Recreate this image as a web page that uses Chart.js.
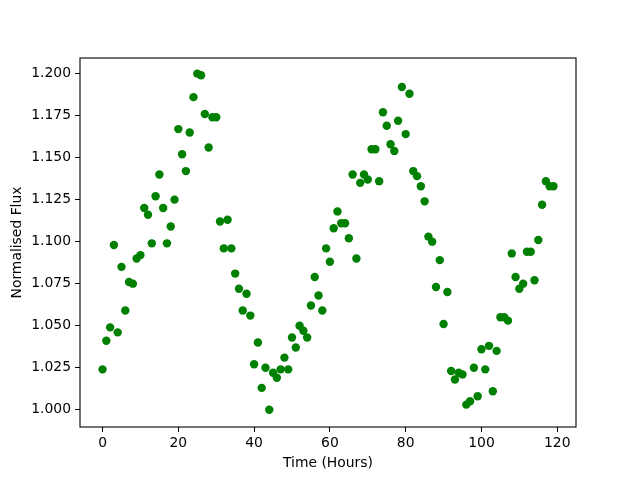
<!DOCTYPE html>
<html>
<head>
<meta charset="utf-8">
<script src="https://cdn.jsdelivr.net/npm/chart.js@4/dist/chart.umd.min.js"></script>
<style>
  html, body { margin: 0; padding: 0; background: #fff; }
  canvas { display: block; }
</style>
</head>
<body>
<canvas id="fluxChart" width="640" height="480"></canvas>
<script>
const hours = [
    0, 1, 2, 3, 4, 5, 6, 7, 8, 9, 10, 11, 12, 13, 14, 15, 16, 17, 18, 19,
    20, 21, 22, 23, 24, 25, 26, 27, 28, 29, 30, 31, 32, 33, 34, 35, 36, 37, 38, 39,
    40, 41, 42, 43, 44, 45, 46, 47, 48, 49, 50, 51, 52, 53, 54, 55, 56, 57, 58, 59,
    60, 61, 62, 63, 64, 65, 66, 67, 68, 69, 70, 71, 72, 73, 74, 75, 76, 77, 78, 79,
    80, 81, 82, 83, 84, 85, 86, 87, 88, 89, 90, 91, 92, 93, 94, 95, 96, 97, 98, 99,
    100, 101, 102, 103, 104, 105, 106, 107, 108, 109, 110, 111, 112, 113, 114, 115, 116, 117, 118, 119,
];

const flux = [
    1.024, 1.041, 1.049, 1.098, 1.046, 1.085, 1.059, 1.076, 1.075, 1.090,
    1.092, 1.120, 1.116, 1.099, 1.127, 1.140, 1.120, 1.099, 1.109, 1.125,
    1.167, 1.152, 1.142, 1.165, 1.186, 1.200, 1.199, 1.176, 1.156, 1.174,
    1.174, 1.112, 1.096, 1.113, 1.096, 1.081, 1.072, 1.059, 1.069, 1.056,
    1.027, 1.040, 1.013, 1.025, 1.000, 1.022, 1.019, 1.024, 1.031, 1.024,
    1.043, 1.037, 1.050, 1.047, 1.043, 1.062, 1.079, 1.068, 1.059, 1.096,
    1.088, 1.108, 1.118, 1.111, 1.111, 1.102, 1.140, 1.090, 1.135, 1.140,
    1.137, 1.155, 1.155, 1.136, 1.177, 1.169, 1.158, 1.154, 1.172, 1.192,
    1.164, 1.188, 1.142, 1.139, 1.133, 1.124, 1.103, 1.100, 1.073, 1.089,
    1.051, 1.070, 1.023, 1.018, 1.022, 1.021, 1.003, 1.005, 1.025, 1.008,
    1.036, 1.024, 1.038, 1.011, 1.035, 1.055, 1.055, 1.053, 1.093, 1.079,
    1.072, 1.075, 1.094, 1.094, 1.077, 1.101, 1.122, 1.136, 1.133, 1.133,
];

const xTicks = [0, 20, 40, 60, 80, 100, 120];
const yTicks = [1.000, 1.025, 1.050, 1.075, 1.100, 1.125, 1.150, 1.175, 1.200];

Chart.defaults.font.family = "'DejaVu Sans', sans-serif";
Chart.defaults.font.size = 13.9;
Chart.defaults.color = "#000";

// matplotlib style box round the plot area
const frame = {
    id: "frame",
    afterDraw(chart) {
        const { ctx, chartArea } = chart;
        ctx.save();
        ctx.strokeStyle = "#000";
        ctx.lineWidth = 1.1;
        ctx.strokeRect(chartArea.left, chartArea.top,
            chartArea.right - chartArea.left, chartArea.bottom - chartArea.top);
        ctx.restore();
    },
};

const points = hours.map((h, i) => ({ x: h, y: flux[i] }));

const fluxChart = new Chart("fluxChart", {
    type: "scatter",
    data: {
        datasets: [
            {
                label: "Flux",
                data: points,
                backgroundColor: "#008000",
                borderWidth: 0,
                pointRadius: 4.2,
                pointHoverRadius: 4.2,
            },
        ],
    },
    options: {
        responsive: false,
        animation: false,
        layout: { padding: { top: 58, right: 64, left: 0, bottom: 0 } },
        plugins: {
            legend: { display: false },
            tooltip: { enabled: false },
        },
        scales: {
            x: {
                type: "linear",
                min: -5.95,
                max: 124.95,
                afterBuildTicks: (s) => { s.ticks = xTicks.map((v) => ({ value: v })); },
                afterFit: (s) => { s.height = 53; },
                ticks: { padding: 3, maxRotation: 0, callback: (v) => v },
                grid: { drawOnChartArea: false, drawTicks: true, tickLength: 5, color: "#000" },
                border: { display: false },
                title: { display: true, text: "Time (Hours)", padding: { top: 0, bottom: 8.7 } },
            },
            y: {
                type: "linear",
                min: 0.9897,
                max: 1.2093,
                afterBuildTicks: (s) => { s.ticks = yTicks.map((v) => ({ value: v })); },
                afterFit: (s) => { s.width = 80; },
                ticks: { padding: 4, callback: (v) => Number(v).toFixed(3) },
                grid: { drawOnChartArea: false, drawTicks: true, tickLength: 5, color: "#000" },
                border: { display: false },
                title: { display: true, text: "Normalised Flux", padding: { top: 8.7, bottom: 0 } },
            },
        },
    },
    plugins: [frame],
});
</script>
</body>
</html>
